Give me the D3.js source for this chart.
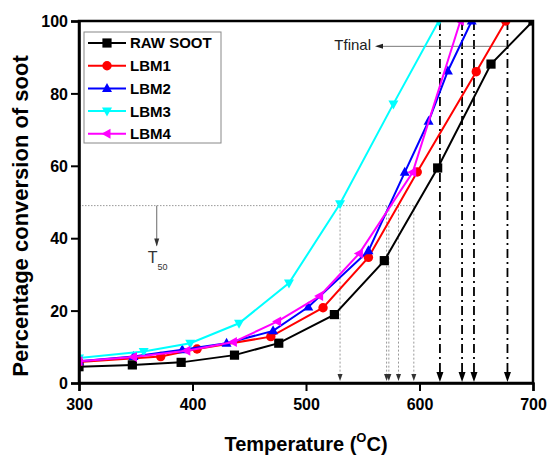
<!DOCTYPE html>
<html><head><meta charset="utf-8">
<script src="https://cdn.jsdelivr.net/npm/d3@7"></script>
<style>body{margin:0;background:#fff}svg{display:block}text{font-family:Arial,"Liberation Sans",sans-serif}</style>
</head><body>
<svg id="c" width="547" height="459"></svg>
<script>
const seriesNames = ["RAW SOOT","LBM1","LBM2","LBM3","LBM4"];
const seriesColors = ["#000000","#ff0000","#0000ff","#00ffff","#ff00ff"];
const seriesSymbols = ["square","circle","triUp","triDown","triLeft"];
const rawSoot = [[300,4.5],[347,5.0],[390,5.7],[437,7.7],[476,11.0],[525,18.9],[569,33.8],[616,59.4],[663,88.1],[700,100]];
const lbm1 = [[300,5.8],[372,7.3],[404,9.4],[469,12.8],[515,20.8],[555,34.7],[598,58.3],[650,86.0],[676,100]];
const lbm2 = [[300,6.0],[348,7.3],[391,9.2],[430,11.0],[471,14.4],[502,21.0],[555,36.5],[587,58.2],[608,72.3],[625,86.2],[646,100]];
const lbm3 = [[300,6.9],[357,8.7],[398,11.0],[441,16.5],[485,27.6],[530,49.5],[577,77.1],[617,100]];
const lbm4 = [[300,6.0],[348,7.2],[395,8.9],[436,11.3],[475,17.0],[512,24.0],[547,35.8],[594,58.2],[636,100]];
const seriesData = [rawSoot,lbm1,lbm2,lbm3,lbm4];
const xTicks = [300,400,500,600,700];
const yTicks = [0,20,40,60,80,100];
const t50Level = 49;
const t50Temps = [530,571,573,581.5,595];
const tfinalTemps = [618,637.5,648,677.5];
const tfinalLevel = 93;

const svg = d3.select("#c");
const L=79,R=533,T=21,B=383;
const x = d3.scaleLinear().domain([300,700]).range([L,R]);
const y = d3.scaleLinear().domain([0,100]).range([B,T]);

svg.append("defs").append("clipPath").attr("id","clip")
  .append("rect").attr("x",L).attr("y",T).attr("width",R-L).attr("height",B-T);

// T50 guides
const g50 = svg.append("g");
g50.append("line").attr("x1",x(300)).attr("x2",x(d3.max(t50Temps))).attr("y1",y(t50Level)).attr("y2",y(t50Level))
  .attr("stroke","#999").attr("stroke-width",1).attr("stroke-dasharray","1.5,1.5");
t50Temps.forEach(t=>{
  g50.append("line").attr("x1",x(t)).attr("x2",x(t)).attr("y1",y(t50Level)).attr("y2",B-8)
    .attr("stroke","#999").attr("stroke-width",1).attr("stroke-dasharray","2,2");
  g50.append("path").attr("d",`M${x(t)-2.5},${B-9}L${x(t)+2.5},${B-9}L${x(t)},${B-2}Z`).attr("fill","#333");
});
// T50 label arrow
const tx = x(368.5);
g50.append("line").attr("x1",tx).attr("x2",tx).attr("y1",y(t50Level)).attr("y2",y(38)).attr("stroke","#444").attr("stroke-width",0.8);
g50.append("path").attr("d",`M${tx-2.5},${y(38)-7}L${tx+2.5},${y(38)-7}L${tx},${y(38)+1}Z`).attr("fill","#333");
const tl = svg.append("text").attr("x",tx-9).attr("y",263).attr("font-size",16).attr("fill","#333");
tl.append("tspan").text("T");
tl.append("tspan").attr("font-size",9).attr("dy",7).text("50");

// Tfinal dash-dot lines
tfinalTemps.forEach(t=>{
  svg.append("line").attr("x1",x(t)).attr("x2",x(t)).attr("y1",T).attr("y2",B-9)
    .attr("stroke","#000").attr("stroke-width",1.8).attr("stroke-dasharray","9,4,2,4");
  svg.append("path").attr("d",`M${x(t)-3.5},${B-11}L${x(t)+3.5},${B-11}L${x(t)},${B-1}Z`).attr("fill","#000");
});
// Tfinal label arrow
svg.append("line").attr("x1",x(677)).attr("x2",377).attr("y1",y(tfinalLevel)).attr("y2",y(tfinalLevel)).attr("stroke","#555").attr("stroke-width",0.8);
svg.append("path").attr("d",`M${375},${y(tfinalLevel)}L${383},${y(tfinalLevel)-2.5}L${383},${y(tfinalLevel)+2.5}Z`).attr("fill","#222");
svg.append("text").attr("x",371).attr("y",50).attr("text-anchor","end").attr("font-size",15).attr("fill","#222").text("Tfinal");

// series
function marker(sym,cx,cy){
  const s=4.6;
  if(sym==="square") return `M${cx-s},${cy-s}h${2*s}v${2*s}h${-2*s}Z`;
  if(sym==="circle") return d3.symbol(d3.symbolCircle,70)() ;
  if(sym==="triUp") return `M${cx},${cy-5.5}L${cx+5},${cy+3.5}L${cx-5},${cy+3.5}Z`;
  if(sym==="triDown") return `M${cx},${cy+5.5}L${cx+5},${cy-3.5}L${cx-5},${cy-3.5}Z`;
  if(sym==="triLeft") return `M${cx-5.5},${cy}L${cx+3.5},${cy-5}L${cx+3.5},${cy+5}Z`;
}
function drawMarker(g,sym,cx,cy,color){
  if(sym==="circle") g.append("circle").attr("cx",cx).attr("cy",cy).attr("r",4.7).attr("fill",color);
  else g.append("path").attr("d",marker(sym,cx,cy)).attr("fill",color);
}
const line = d3.line().x(d=>x(d[0])).y(d=>y(d[1]));
const plot = svg.append("g").attr("clip-path","url(#clip)");
seriesData.forEach((data,i)=>{
  const g = plot.append("g");
  g.append("path").datum(data).attr("d",line).attr("fill","none").attr("stroke",seriesColors[i]).attr("stroke-width",2);
  data.forEach(d=>drawMarker(g,seriesSymbols[i],x(d[0]),y(d[1]),seriesColors[i]));
});

// frame
svg.append("rect").attr("x",L).attr("y",T).attr("width",R-L).attr("height",B-T).attr("fill","none").attr("stroke","#000").attr("stroke-width",2.5);

// axes
const xa = svg.append("g").attr("transform",`translate(0,${B})`).call(d3.axisBottom(x).tickValues(xTicks).tickSize(8).tickPadding(4));
const ya = svg.append("g").attr("transform",`translate(${L},0)`).call(d3.axisLeft(y).tickValues(yTicks).tickSize(8).tickPadding(3));
[xa,ya].forEach(a=>{
  a.select(".domain").attr("stroke","#000").attr("stroke-width",2.5);
  a.selectAll(".tick line").attr("stroke","#000").attr("stroke-width",2);
  a.selectAll(".tick text").attr("font-size",16).attr("font-weight","bold").attr("fill","#000").attr("font-family","Arial,'Liberation Sans',sans-serif");
});
xa.selectAll(".tick text").attr("dy","0").attr("y",27);
ya.selectAll(".tick text").attr("dy","0.36em");

// titles
const xt = svg.append("text").attr("x",(L+R)/2).attr("y",451).attr("text-anchor","middle").attr("font-size",20).attr("font-weight","bold");
xt.append("tspan").text("Temperature (");
xt.append("tspan").attr("font-size",13).attr("dy",-9).text("O");
xt.append("tspan").attr("dy",9).text("C)");
svg.append("text").attr("transform","translate(28,216) rotate(-90)").attr("text-anchor","middle").attr("font-size",22).attr("font-weight","bold").text("Percentage conversion of soot");

// legend
const lg = svg.append("g");
lg.append("rect").attr("x",84).attr("y",32).attr("width",137).attr("height",111).attr("fill","#fff").attr("stroke","#888").attr("stroke-width",1);
seriesNames.forEach((n,i)=>{
  const cy = 43 + i*22.7;
  lg.append("line").attr("x1",88).attr("x2",126).attr("y1",cy).attr("y2",cy).attr("stroke",seriesColors[i]).attr("stroke-width",2);
  drawMarker(lg,seriesSymbols[i],107,cy,seriesColors[i]);
  lg.append("text").attr("x",130).attr("y",cy).attr("dy","0.36em").attr("font-size",15).attr("font-weight","bold").text(n);
});
</script>
</body></html>
